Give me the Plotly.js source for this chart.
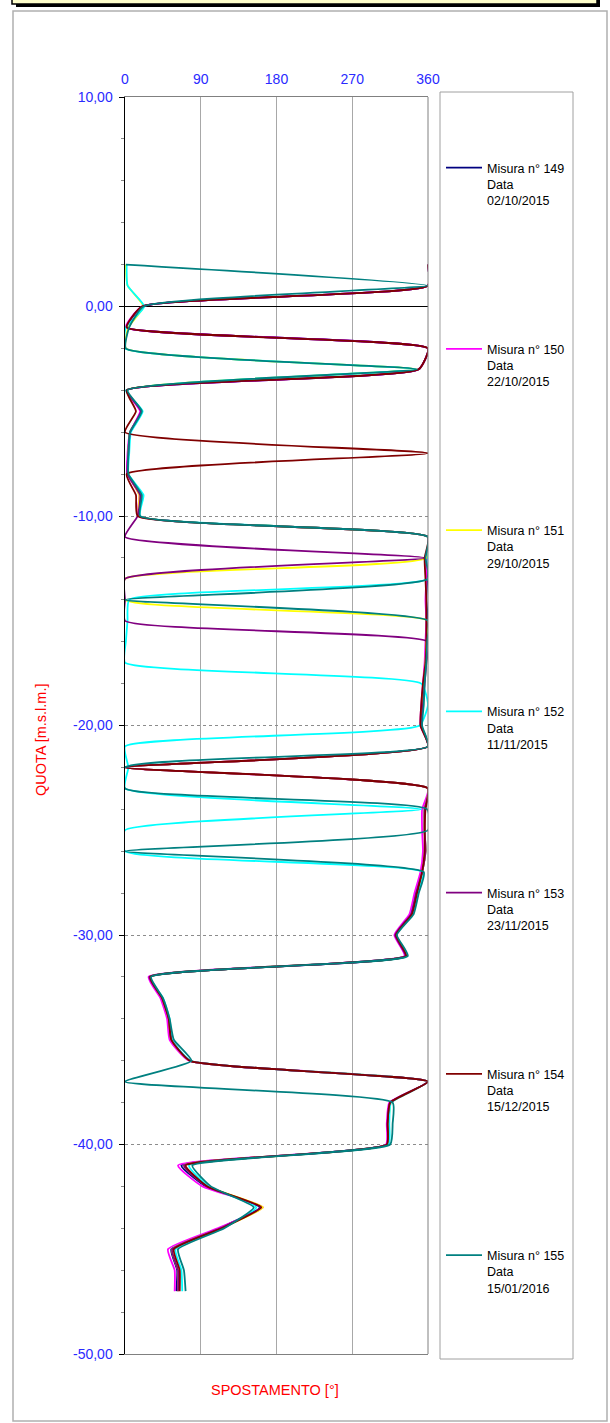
<!DOCTYPE html>
<html>
<head>
<meta charset="utf-8">
<script src="https://cdn.plot.ly/plotly-3.0.1.min.js"></script>
<style>
html,body{margin:0;padding:0;background:#fff;}
#chart{width:610px;height:1423px;}
</style>
</head>
<body>
<div id="chart"></div>
<script>
// ---- data (depth in m.s.l.m., azimuth in degrees) ----
const depths = [2,1,0,-1,-2,-3,-4,-5,-6,-7,-8,-9,-10,-11,-12,-13,-14,-15,-16,-17,-18,-19,-20,-21,-22,-23,-24,-25,-26,-27,-28,-29,-30,-31,-32,-33,-34,-35,-36,-37,-38,-39,-40,-41,-42,-43,-44,-45,-46,-47];

const mis149 = [360,360,21,2,360,349,2,19,6,4,3,18,17,360,358,359,358,360,358,357,355,353,352,360,0,360,356,356,357,353,346,340,321,333,29,44,52,55,77,360,315,312,311,67,96,160,112,55,62,61];
const mis150 = [360,360,20,1,360,349,2,18,6,3,3,17,16,360,358,358,357,358,357,356,354,352,351,360,0,360,353,353,354,351,344,338,320,332,28,42,50,53,76,360,314,311,310,63,92,164,110,51,59,59];
const mis151 = [1,3,22,4,1,347,2,20,6,4,4,17,17,360,358,0,0,360,358,357,355,354,352,360,0,360,356,356,357,353,347,341,322,334,30,44,52,55,77,360,316,313,312,70,98,164,114,56,63,63];
const mis152 = [2,3,23,1,0,346,1,21,7,5,4,22,18,360,360,360,5,3,1,0,352,360,350,0,4,0,352,0,0,354,348,342,322,335,30,45,53,56,78,360,316,314,313,76,99,156,116,60,67,68];
const mis153 = [360,360,21,2,360,349,2,19,6,4,3,18,15,0,356,0,0,0,360,358,356,354,352,360,0,360,356,356,357,353,346,340,321,333,29,44,52,55,77,360,315,312,311,70,97,161,113,56,63,63];
const mis154 = [360,360,20,2,360,349,2,13,0,360,2,13,15,360,356,357,358,358,358,357,354,352,351,360,0,360,357,356,356,353,347,341,322,334,30,44,52,55,77,360,315,312,311,72,98,162,115,58,65,65];
const mis155 = [1,359,22,5,1,347,3,20,6,4,4,20,18,360,357,360,0,360,359,358,356,355,353,360,0,0,359,360,0,355,349,343,323,336,31,45,53,58,79,0,318,318,315,80,102,153,118,63,70,72];

const seriesNames = [
  "Misura n° 149<br>Data<br>02/10/2015",
  "Misura n° 150<br>Data<br>22/10/2015",
  "Misura n° 151<br>Data<br>29/10/2015",
  "Misura n° 152<br>Data<br>11/11/2015",
  "Misura n° 153<br>Data<br>23/11/2015",
  "Misura n° 154<br>Data<br>15/12/2015",
  "Misura n° 155<br>Data<br>15/01/2016"
];
const seriesValues = [mis149, mis150, mis151, mis152, mis153, mis154, mis155];
const seriesColors = ["#000080","#FF00FF","#FFFF00","#00FFFF","#800080","#800000","#008080"];

const xTickVals = [0,90,180,270,360];
const xTickText = ["0","90","180","270","360"];
const yTickVals = [10,0,-10,-20,-30,-40,-50];
const yTickText = ["10,00","0,00","-10,00","-20,00","-30,00","-40,00","-50,00"];

// ---- layout geometry (pixels) ----
const W = 610, H = 1423;
const PL = 125, PR = 428, PT = 97, PB = 1354;
const px = v => (v - PL) / (PR - PL);
const py = v => (PB - v) / (PB - PT);
const FONT = "Liberation Sans, Arial, sans-serif";

const traces = seriesValues.map((vals, i) => ({
  type: "scatter",
  mode: "lines",
  x: vals,
  y: depths,
  name: seriesNames[i],
  legendgroup: "g" + i,
  line: {color: seriesColors[i], width: 1.8, shape: "spline", smoothing: 0.45},
  hoverinfo: "x+y"
}));

const layout = {
  width: W, height: H,
  margin: {l: PL, r: W - PR, t: PT, b: H - PB, pad: 0},
  paper_bgcolor: "#ffffff",
  plot_bgcolor: "#ffffff",
  font: {family: FONT, color: "#000"},
  showlegend: true,
  legend: {
    x: px(441), y: py(153), xanchor: "left", yanchor: "top",
    bgcolor: "rgba(0,0,0,0)", borderwidth: 0,
    font: {family: FONT, size: 12.5, color: "#000"},
    tracegroupgap: 129.5, valign: "top", itemwidth: 36,
    itemclick: false, itemdoubleclick: false
  },
  xaxis: {
    side: "top", range: [0, 360], autorange: false,
    tickmode: "array", tickvals: xTickVals, ticktext: xTickText,
    tickfont: {family: FONT, size: 14, color: "#2a2aff"},
    ticks: "", ticklabelstandoff: 6,
    showgrid: true, gridcolor: "#a8a8a8", gridwidth: 1,
    zeroline: false,
    showline: true, linecolor: "#808080", linewidth: 1, mirror: true,
    fixedrange: true
  },
  yaxis: {
    range: [-50, 10], autorange: false,
    tickmode: "array", tickvals: yTickVals, ticktext: yTickText,
    tickfont: {family: FONT, size: 14, color: "#2a2aff"},
    ticks: "outside", ticklen: 5, tickcolor: "#000", tickwidth: 1,
    ticklabelstandoff: 3,
    showline: true, linecolor: "#000", linewidth: 1.5,
    showgrid: true, gridcolor: "#8c8c8c", gridwidth: 1, griddash: "dot",
    zeroline: true, zerolinecolor: "#000", zerolinewidth: 1.5,
    minor: {tickmode: "linear", tick0: 0, dtick: 2, ticks: "outside", ticklen: 3, tickcolor: "#888", showgrid: false},
    fixedrange: true
  },
  shapes: [
    {type: "rect", xref: "paper", yref: "paper", x0: px(13), x1: px(607), y0: py(1421), y1: py(11),
     line: {color: "#b0b0b0", width: 1.5}, fillcolor: "rgba(0,0,0,0)", layer: "below"},
    {type: "rect", xref: "paper", yref: "paper", x0: px(16), x1: px(600), y0: py(7), y1: py(-20),
     line: {width: 0}, fillcolor: "#000"},
    {type: "rect", xref: "paper", yref: "paper", x0: px(12), x1: px(597), y0: py(4), y1: py(-20),
     line: {color: "#000", width: 1.5}, fillcolor: "#ffffcc"},
    {type: "line", xref: "paper", yref: "paper", x0: 1, x1: 1, y0: 0, y1: 1,
     line: {color: "#808080", width: 1}},
    {type: "rect", xref: "paper", yref: "paper", x0: px(440), x1: px(573), y0: py(1359), y1: py(92),
     line: {color: "#a0a0a0", width: 1}, fillcolor: "rgba(0,0,0,0)"}
  ],
  annotations: [
    {text: "QUOTA [m.s.l.m.]", xref: "paper", yref: "paper", x: px(41), y: py(739),
     textangle: -90, showarrow: false, xanchor: "center", yanchor: "middle",
     font: {family: FONT, size: 14.5, color: "#ff0000"}},
    {text: "SPOSTAMENTO [°]", xref: "paper", yref: "paper", x: px(275), y: py(1390),
     showarrow: false, xanchor: "center", yanchor: "middle",
     font: {family: FONT, size: 14.5, color: "#ff0000"}}
  ]
};

Plotly.newPlot("chart", traces, layout, {staticPlot: true, displayModeBar: false});
</script>
</body>
</html>
